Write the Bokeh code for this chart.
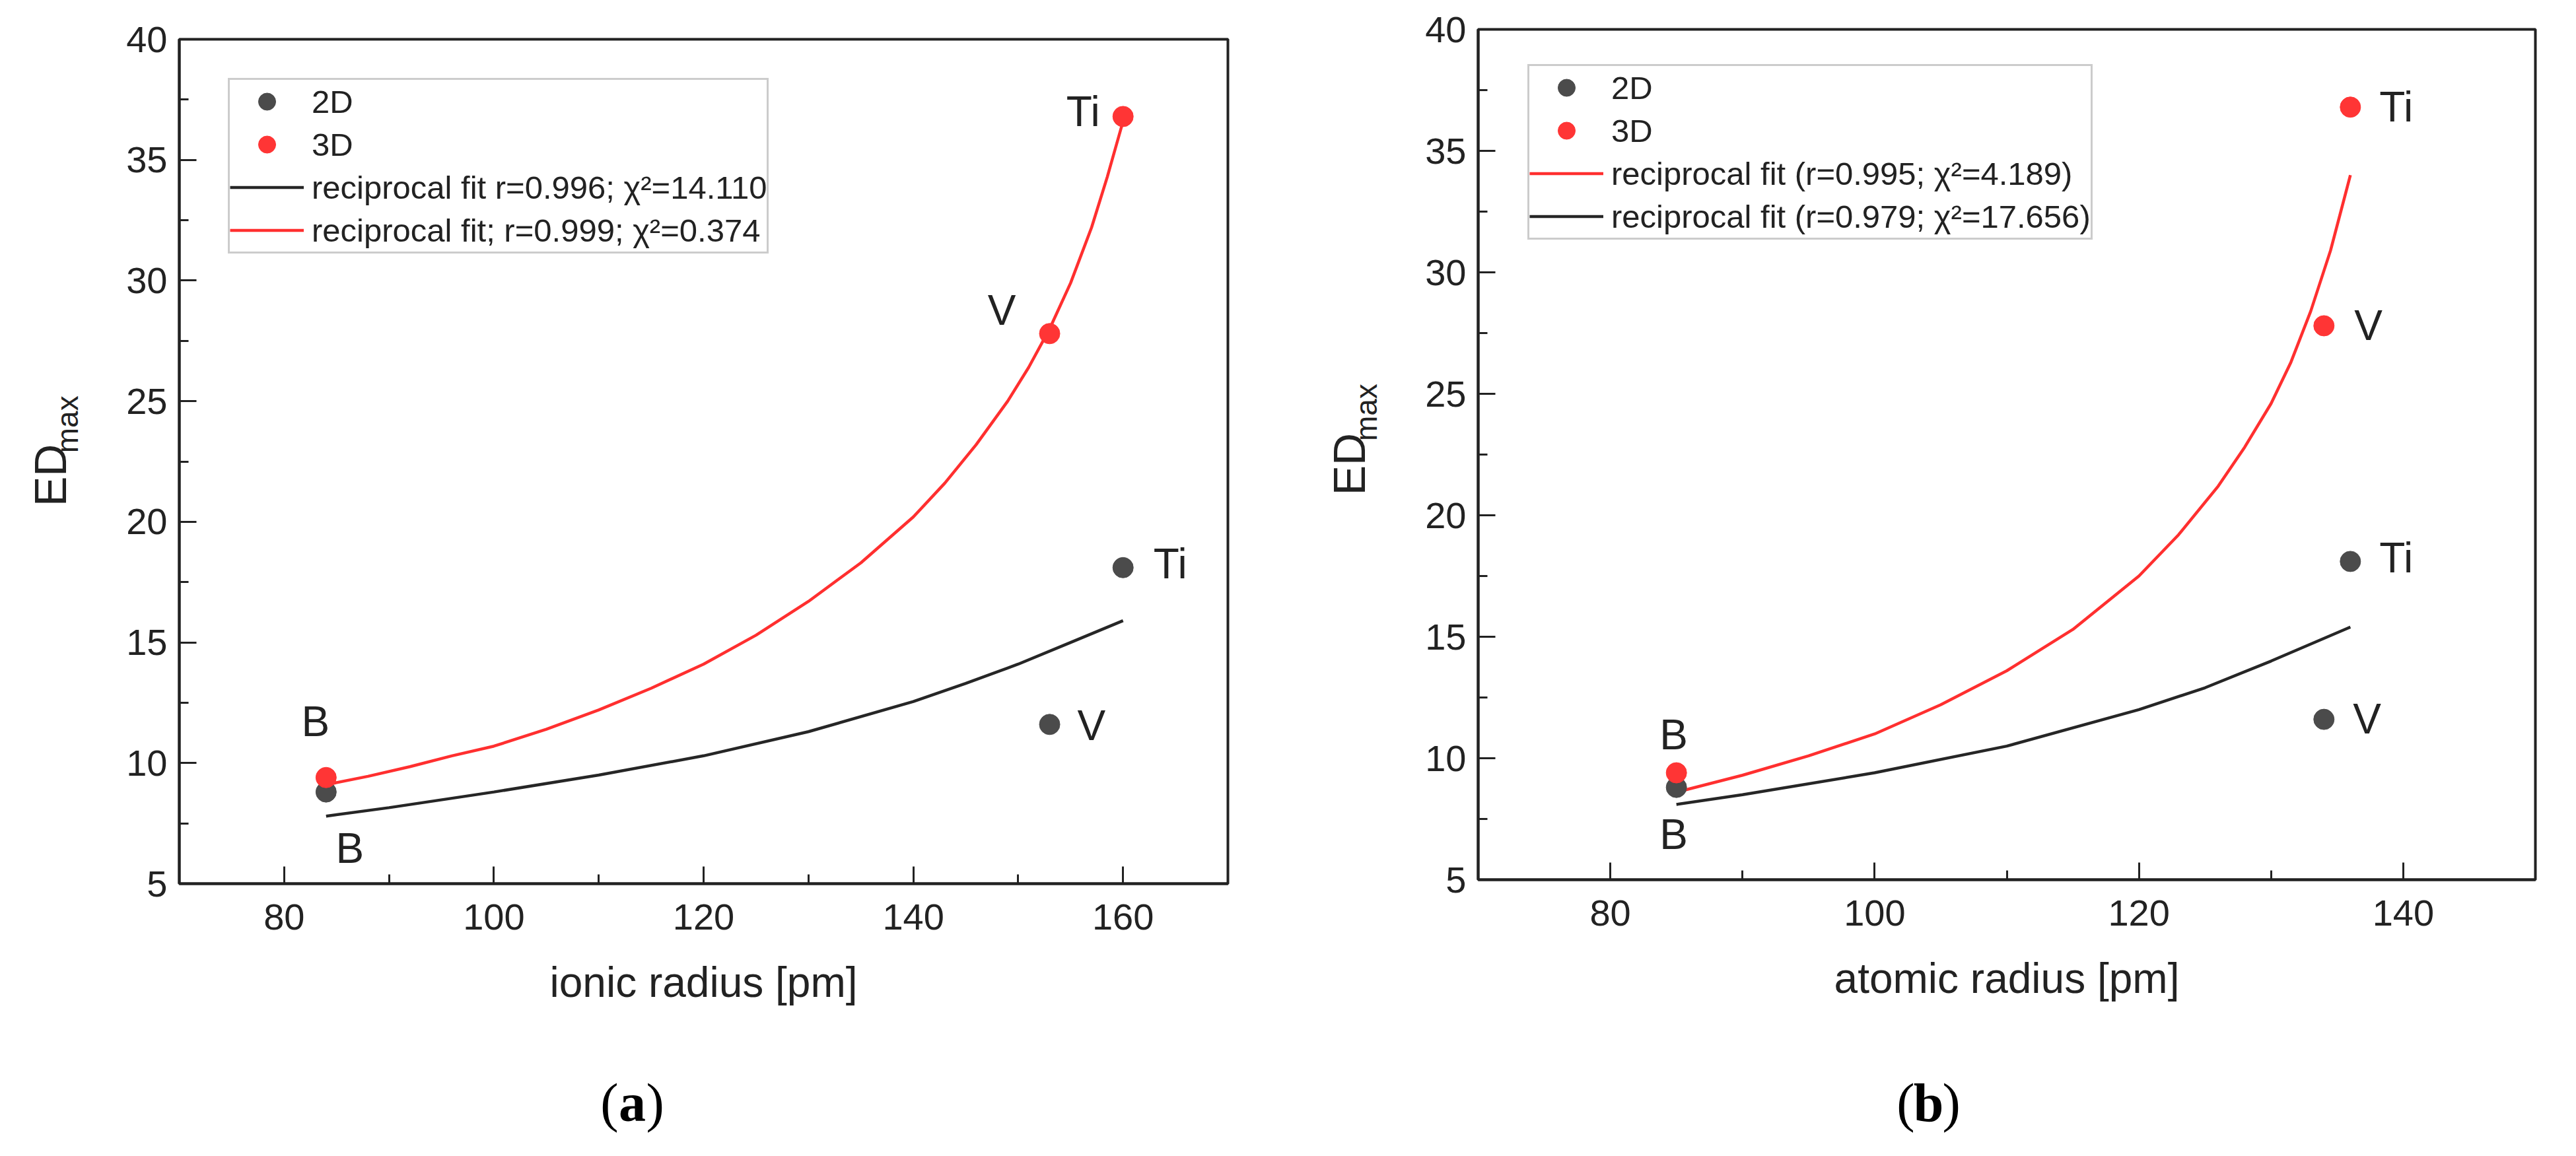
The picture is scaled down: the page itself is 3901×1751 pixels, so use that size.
import math

from bokeh.core.properties import value
from bokeh.embed import file_html
from bokeh.layouts import column, row
from bokeh.models import Label, Legend, LegendItem, Range1d, SingleIntervalTicker
from bokeh.plotting import figure
from bokeh.resources import INLINE

ELEMENTS = ['B', 'V', 'Ti']
IONIC_RADIUS = [84, 153, 160]
ATOMIC_RADIUS = [85, 134, 136]
ED_2D = [8.8, 11.6, 18.1]
ED_3D = [9.4, 27.8, 36.8]

# reciprocal fit curves
IONIC_FIT_2D_X = [84, 90, 100, 110, 120, 130, 140, 145, 150, 155, 160]
IONIC_FIT_2D_Y = [7.8, 8.15, 8.8, 9.5, 10.3, 11.3, 12.55, 13.3, 14.1, 15.0, 15.9]
IONIC_FIT_3D_X = [84, 88, 92, 96, 100, 105, 110, 115, 120, 125, 130, 135, 140, 143, 146,
                  149, 151, 153, 155, 157, 158.5, 160]
IONIC_FIT_3D_Y = [9.1, 9.45, 9.85, 10.3, 10.7, 11.4, 12.2, 13.1, 14.1, 15.3, 16.7, 18.3, 20.2,
                  21.6, 23.2, 25.0, 26.4, 28.0, 29.9, 32.2, 34.3, 36.6]

ATOMIC_FIT_2D_X = [85, 90, 100, 110, 120, 125, 130, 136]
ATOMIC_FIT_2D_Y = [8.1, 8.5, 9.4, 10.5, 12.0, 12.9, 14.0, 15.4]
ATOMIC_FIT_3D_X = [85, 90, 95, 100, 105, 110, 115, 120, 123, 126, 128, 130, 131.5, 133,
                   134.5, 136]
ATOMIC_FIT_3D_Y = [8.6, 9.3, 10.1, 11.0, 12.2, 13.6, 15.3, 17.5, 19.2, 21.2, 22.8, 24.6,
                   26.3, 28.4, 30.9, 34.0]

LEGEND_A = ['2D', '3D', 'reciprocal fit r=0.996; χ²=14.110', 'reciprocal fit; r=0.999; χ²=0.374']
LEGEND_B = ['2D', '3D', 'reciprocal fit (r=0.995; χ²=4.189)', 'reciprocal fit (r=0.979; χ²=17.656)']

FONT = 'Liberation Sans'
SERIF = 'Liberation Serif'
INK = '#222222'
GREY = '#4b4b4b'
RED = '#ff3535'


def blank(width, height, left, top):
    # helper canvas whose frame is the whole figure; y is minus the page row
    p = figure(width=width, height=height, title=None,
               x_range=Range1d(left, left + width), y_range=Range1d(-(top + height), -top),
               output_backend='svg', toolbar_location=None, min_border=0,
               x_axis_location=None, y_axis_location=None, outline_line_color=None)
    p.grid.visible = False
    return p


def panel(x_label, radius, x_end, fit_2d, fit_3d, legend_labels, legend_order,
          offsets, width, borders, legend_at):
    left, right, top, bottom = borders
    p = figure(width=width, height=1592, x_range=Range1d(70, x_end), y_range=Range1d(5, 40),
               output_backend='svg', toolbar_location=None,
               min_border_left=left, min_border_right=right,
               min_border_top=top, min_border_bottom=bottom)
    p.grid.visible = False
    p.outline_line_color = INK
    p.outline_line_width = 4
    p.outline_line_alpha = 1

    p.xaxis.ticker = SingleIntervalTicker(interval=20, num_minor_ticks=2)
    p.yaxis.ticker = SingleIntervalTicker(interval=5, num_minor_ticks=2)
    for ax in (p.xaxis[0], p.yaxis[0]):
        ax.axis_line_color = INK
        ax.axis_line_width = 4
        ax.major_tick_in = 26
        ax.major_tick_out = 0
        ax.minor_tick_in = 14
        ax.minor_tick_out = 0
        ax.major_tick_line_color = INK
        ax.major_tick_line_width = 3
        ax.minor_tick_line_color = INK
        ax.minor_tick_line_width = 3
        ax.major_label_text_font = FONT
        ax.major_label_text_font_size = '56px'
        ax.major_label_text_color = INK
    p.xaxis.major_label_standoff = 31
    p.yaxis.major_label_standoff = 18
    p.xaxis.axis_label = x_label
    p.xaxis.axis_label_text_font = FONT
    p.xaxis.axis_label_text_font_size = '64px'
    p.xaxis.axis_label_text_font_style = 'normal'
    p.xaxis.axis_label_text_color = INK
    p.xaxis.axis_label_standoff = 41

    r_fit_2d = p.line(fit_2d[0], fit_2d[1], line_color='#262626', line_width=4.5)
    r_fit_3d = p.line(fit_3d[0], fit_3d[1], line_color='#ff2f2f', line_width=4.5)
    r_2d = p.scatter(radius, ED_2D, size=31, color=GREY)
    r_3d = p.scatter(radius, ED_3D, size=31, color=RED)

    for series, values in (('2D', ED_2D), ('3D', ED_3D)):
        for x, y, name in zip(radius, values, ELEMENTS):
            dx, dy, align = offsets[(series, name)]
            p.add_layout(Label(x=x, y=y, text=name, x_offset=dx, y_offset=dy,
                               text_align=align, text_baseline='middle',
                               text_font=FONT, text_font_size='64px', text_color=INK))

    renderers = {'2D': r_2d, '3D': r_3d, 'fit2d': r_fit_2d, 'fit3d': r_fit_3d}
    items = [LegendItem(label=lab, renderers=[renderers[key]])
             for key, lab in zip(legend_order, legend_labels)]
    legend = Legend(items=items, location=legend_at, padding=0, spacing=0, margin=0,
                    glyph_width=112, glyph_height=65, label_height=65, label_standoff=12,
                    label_text_font=FONT, label_text_font_size='49px', label_text_color=INK,
                    border_line_color='#9a9a9a', border_line_width=3,
                    background_fill_color='white', background_fill_alpha=1)
    p.add_layout(legend)
    return p


def y_label(width, left, ed_center, max_center):
    p = blank(width, 1592, left, 8)
    # rotated svg text lands about one text length higher than asked, so shift it down
    for (cx, cy), text, size, length in ((ed_center, 'ED', '68px', 94),
                                         (max_center, 'max', '46px', 87)):
        p.text(x=[cx], y=[-(cy + length)], text=[text], angle=math.pi / 2,
               text_align='center', text_baseline='middle',
               text_font=value(FONT), text_font_size=size, text_color=INK)
    return p


def caption(width, left, center_x, center_y, letter):
    p = blank(width, 143, left, 1600)
    for text, dx, align, style in (('(', -21, 'right', 'normal'), (letter, 0, 'center', 'bold'),
                                   (')', 21, 'left', 'normal')):
        p.text(x=[center_x + dx], y=[-center_y], text=[text], text_align=align,
               text_baseline='middle', text_font=value(SERIF), text_font_size='82px',
               text_font_style=style, text_color='black')
    return p


offsets_a = {
    ('3D', 'Ti'): (-35, 7, 'right'),
    ('3D', 'V'): (-51, 35, 'right'),
    ('3D', 'B'): (-16, 85, 'center'),
    ('2D', 'B'): (36, -85, 'center'),
    ('2D', 'Ti'): (46, 6, 'left'),
    ('2D', 'V'): (42, -2, 'left'),
}
offsets_b = {
    ('3D', 'Ti'): (44, 0, 'left'),
    ('3D', 'V'): (46, 0, 'left'),
    ('3D', 'B'): (-4, 58, 'center'),
    ('2D', 'B'): (-4, -71, 'center'),
    ('2D', 'Ti'): (44, 5, 'left'),
    ('2D', 'V'): (44, 1, 'left'),
}

pa = panel('ionic radius [pm]', IONIC_RADIUS, 170,
           (IONIC_FIT_2D_X, IONIC_FIT_2D_Y), (IONIC_FIT_3D_X, IONIC_FIT_3D_Y),
           LEGEND_A, ['2D', '3D', 'fit2d', 'fit3d'], offsets_a,
           1800, (129, 83, 59, 254), (74, 954))
pb = panel('atomic radius [pm]', ATOMIC_RADIUS, 150,
           (ATOMIC_FIT_2D_X, ATOMIC_FIT_2D_Y), (ATOMIC_FIT_3D_X, ATOMIC_FIT_3D_Y),
           LEGEND_B, ['2D', '3D', 'fit3d', 'fit2d'], offsets_b,
           1763, (116, 46, 44, 260), (75, 969))

left_half = column(row(y_label(142, 8, (83, 736), (109, 647)), pa),
                   caption(1942, 8, 965, 1678, 'a'))
right_half = column(row(y_label(180, 1950, (2050, 728), (2076, 638)), pb),
                    caption(1943, 1950, 2928, 1678, 'b'))

layout = row(left_half, right_half)
open("out.html", "w").write(file_html(layout, INLINE))
